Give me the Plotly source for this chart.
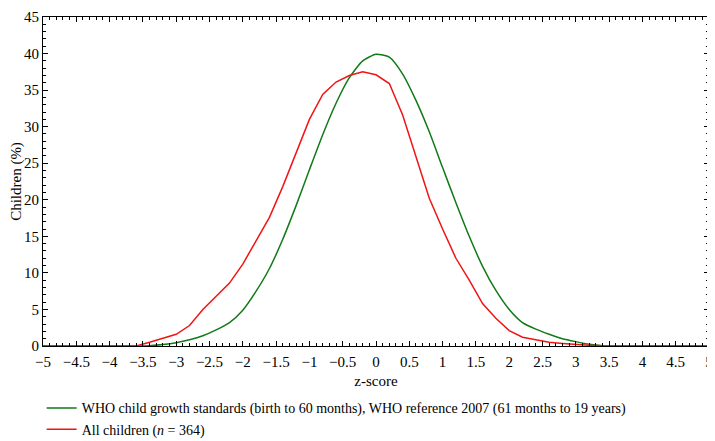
import plotly.graph_objects as go

z_score = [round(-5 + 0.2 * i, 1) for i in range(51)]

who_reference = [
    0, 0, 0, 0, 0, 0, 0, 0,
    0.05, 0.2, 0.45, 0.85, 1.4, 2.2, 3.2, 4.9, 7.5, 10.6, 14.6, 19.2, 24.1,
    28.9, 33.2, 36.7, 39.0, 39.9, 39.5, 37.2, 33.6, 29.3, 24.4, 19.6, 15.0,
    10.9, 7.6, 5.0, 3.2, 2.3, 1.6, 1.0, 0.6, 0.25, 0.05,
    0, 0, 0, 0, 0, 0, 0, 0,
]

all_children = [
    0, 0, 0, 0, 0, 0, 0,
    0, 0.5, 1.0, 1.6, 2.8, 5.0, 6.8, 8.6, 11.2, 14.5, 17.6, 21.8, 26.5, 31.0,
    34.4, 36.1, 37.0, 37.5, 37.1, 35.9, 31.6, 25.8, 20.2, 16.0, 12.0, 9.0,
    5.8, 3.8, 2.1, 1.2, 0.8, 0.5, 0.35, 0.2, 0.1, 0.05,
    0.05, 0, 0, 0, 0, 0, 0, 0,
]

fig = go.Figure()

fig.add_trace(
    go.Scatter(
        x=z_score,
        y=who_reference,
        name='WHO child growth standards (birth to 60 months), WHO reference 2007 (61 months to 19 years)',
        mode='lines',
        line_shape='spline',
        line=dict(color='#117A17', width=1.5, smoothing=0.6),
    ),
)

fig.add_trace(
    go.Scatter(
        x=z_score,
        y=all_children,
        name='All children (<i>n</i> = 364)',
        mode='lines',
        line=dict(color='#F01414', width=1.5),
    ),
)

axis_style = dict(
    showline=True,
    linecolor='black',
    linewidth=1,
    mirror='allticks',
    ticks='inside',
    ticklen=5,
    tickcolor='black',
    showgrid=False,
    zeroline=False,
    automargin=False,
    ticklabeloverflow='allow',
    tickfont=dict(size=15),
)

# page body adds an 8px offset, so the figure is a little smaller than the window
fig.update_layout(
    width=707,
    height=433,
    margin=dict(l=35, r=6, t=9, b=95, autoexpand=False),
    paper_bgcolor='white',
    plot_bgcolor='white',
    font=dict(family='Liberation Serif', size=15, color='black'),
    xaxis=dict(
        axis_style,
        range=[-5, 5],
        dtick=0.5,
        tick0=0,
        ticklabelstandoff=2,
        minor=dict(ticks='inside', ticklen=3, dtick=0.1, tickcolor='black'),
        title=dict(text='z-score', font=dict(size=15), standoff=6),
    ),
    yaxis=dict(
        axis_style,
        range=[0, 45],
        dtick=5,
        minor=dict(ticks='inside', ticklen=3, dtick=1, tickcolor='black'),
        title=dict(text='Children (%)', font=dict(size=15), standoff=10),
    ),
    legend=dict(
        x=-0.002,
        y=-0.141,
        xanchor='left',
        yanchor='top',
        orientation='v',
        itemwidth=30,
        font=dict(size=14),
        bgcolor='rgba(0,0,0,0)',
    ),
)

fig.write_html('out.html')
